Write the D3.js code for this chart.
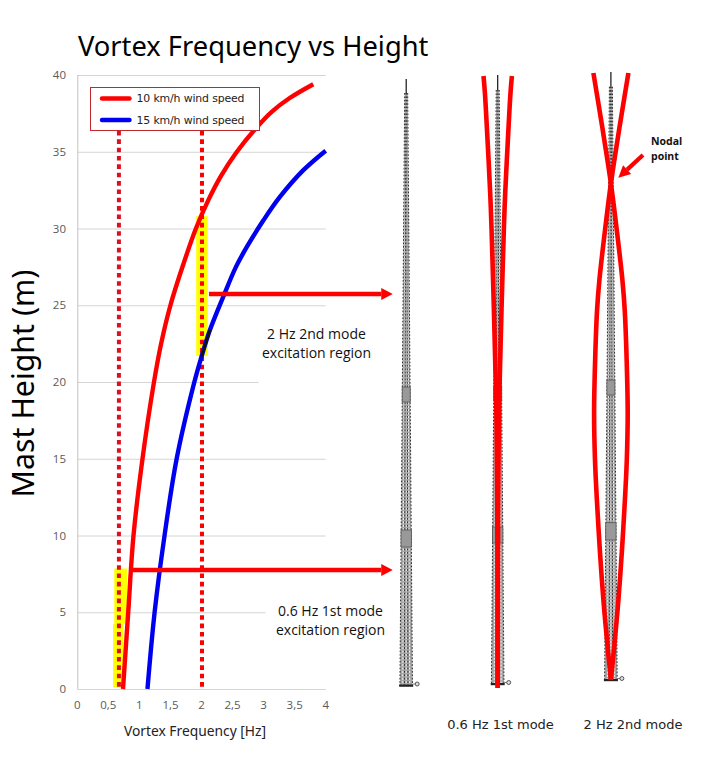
<!DOCTYPE html>
<html><head><meta charset="utf-8">
<script src="https://cdn.jsdelivr.net/npm/d3@7"></script>
<style>html,body{margin:0;padding:0;background:#fff}svg{display:block}text{font-family:"Open Sans",sans-serif}</style>
</head><body><svg id="c" width="703" height="765"></svg>
<script>
// ---- chart data (height in m, frequency in Hz) ----
const xTicks = [0,0.5,1,1.5,2,2.5,3,3.5,4];
const yTicks = [0,5,10,15,20,25,30,35,40];
const series10Height = [0,5,10,15,20,22.5,25,27.7,30,31.85,33.4,35,36.5,37.6,38.5,39.4];
const series10Freq   = [0.736,0.82,0.905,1.05,1.235,1.35,1.5,1.71,1.91,2.11,2.31,2.57,2.87,3.13,3.42,3.8];
const series15Height = [0,5,10,15,20,21.65,23.4,25.55,27.5,28.8,30.55,32.07,33.8,35.07];
const series15Freq   = [1.13,1.245,1.405,1.6,1.885,2.0,2.137,2.35,2.555,2.73,3.0,3.265,3.64,4.0];
const seriesNames = ["10 km/h wind speed","15 km/h wind speed"];
const referenceFreqs = [0.67,2.008];
const gridEnds = [4,3.03,4,4,2.92,4,4,4,4]; // where each faded grid line stops
// excitation regions: [f0,f1,h0,h1]
const regions = [[0.575,0.74,0.1,4.25],[0.595,0.8,4.25,7.85],[1.915,2.1,21.7,30.8]];
// arrows: [fStart,fEnd,h]
const arrows = [[2.12,5.08,25.73],[0.865,5.08,7.75]];
// mode shapes: height (m) and lateral amplitude (px-units)
const mode1Height = [0,12.3,18.8,24.7,30.1,32.35,35.6,38.9,40];
const mode1Amp    = [0,0.5,1.5,3.8,6.2,7.5,10,12.8,14.2];
const mode2Height = [0,1.98,5.27,8.5,11.86,14.5,17.6,21,24.4,26.36,29.85,32.73,36.46,40];
const mode2Amp    = [0,-3,-7.5,-11,-14,-15.9,-16.8,-15.8,-13.8,-11.5,-5.5,0,8.7,17.5];

const svg = d3.select("#c");
const x = d3.scaleLinear().domain([0,4]).range([77.3,325.7]);
const y = d3.scaleLinear().domain([0,40]).range([689,75]);
const RED="#ff0000", BLUE="#0000f0";

// grid
svg.append("g").selectAll("line").data(yTicks).join("line")
  .attr("x1",x(0)).attr("x2",(d,i)=>x(gridEnds[i]))
  .attr("y1",d=>y(d)+.5).attr("y2",d=>y(d)+.5)
  .attr("stroke","#d4d4d4").attr("stroke-width",1);
svg.append("line").attr("x1",x(0)+.5).attr("x2",x(0)+.5).attr("y1",y(40)).attr("y2",y(0))
  .attr("stroke","#c4c4c4");

// axis labels
svg.append("g").selectAll("text").data(yTicks).join("text")
  .attr("x",66).attr("y",d=>y(d)+4).attr("text-anchor","end")
  .attr("font-size",11.5).attr("fill","#595959").text(d=>d);
svg.append("g").selectAll("text").data(xTicks).join("text")
  .attr("x",d=>x(d)).attr("y",709).attr("text-anchor","middle")
  .attr("font-size",11.5).attr("fill","#595959").text(d=>String(d).replace(".",","));

// excitation regions
svg.append("g").selectAll("rect").data(regions).join("rect")
  .attr("x",d=>x(d[0])).attr("width",d=>x(d[1])-x(d[0]))
  .attr("y",d=>y(d[3])).attr("height",d=>y(d[2])-y(d[3]))
  .attr("fill","#ffff00");

// reference lines
svg.append("g").selectAll("line").data(referenceFreqs).join("line")
  .attr("x1",d=>x(d)).attr("x2",d=>x(d)).attr("y1",y(36.9)).attr("y2",y(-0.1))
  .attr("stroke",(d,i)=>i?"#ff0000":"#dc1020").attr("stroke-width",4)
  .attr("stroke-dasharray","4.6 3.75");

// curves
const line = d3.line().x(d=>x(d[1])).y(d=>y(d[0])).curve(d3.curveCatmullRom.alpha(.5));
const s10 = d3.zip(series10Height,series10Freq), s15 = d3.zip(series15Height,series15Freq);
svg.append("path").attr("d",line(s15)).attr("fill","none").attr("stroke",BLUE).attr("stroke-width",4.4);
svg.append("path").attr("d",line(s10)).attr("fill","none").attr("stroke",RED).attr("stroke-width",4.4);
svg.append("path").attr("d",line(s15.filter(d=>d[0]>=21.65&&d[0]<=23.4))).attr("fill","none").attr("stroke","#101010").attr("stroke-width",2.6);

// legend
svg.append("rect").attr("x",90.5).attr("y",87.5).attr("width",169).attr("height",43)
  .attr("fill","#fff").attr("stroke","#c0282d").attr("stroke-width",1);
seriesNames.forEach((n,i)=>{
  const ly = 98.5+i*21.5;
  svg.append("line").attr("x1",102).attr("x2",129.5).attr("y1",ly).attr("y2",ly)
    .attr("stroke",i?BLUE:RED).attr("stroke-width",4.4).attr("stroke-linecap","round");
  svg.append("text").attr("x",136.5).attr("y",ly+3.8).attr("font-size",10.9)
    .attr("fill","#222").style("font-family","'DejaVu Sans'").attr("textLength",108).text(n);
});

// arrows
function arrow(x1,y1,x2,y2,w,hl,hw){
  const a=Math.atan2(y2-y1,x2-x1),c=Math.cos(a),s=Math.sin(a);
  const bx=x2-hl*c,by=y2-hl*s;
  svg.append("line").attr("x1",x1).attr("y1",y1).attr("x2",bx).attr("y2",by)
    .attr("stroke",RED).attr("stroke-width",w);
  svg.append("path").attr("fill",RED)
    .attr("d",`M${x2},${y2}L${bx-s*hw},${by+c*hw}L${bx+s*hw},${by-c*hw}Z`);
}
arrows.forEach(a=>arrow(x(a[0]),y(a[2]),x(a[1]),y(a[2]),4.4,11.5,6));

// towers
const towers = [
  {cx:406.2,top:79,lat:93,bottom:686.5,secs:[[387,402],[530,547]],mode:null},
  {cx:497.7,top:75,lat:90,bottom:685,secs:[[386,401],[527,543]],mode:d3.zip(mode1Height,mode1Amp),mb:688,mt:76},
  {cx:610.9,top:72,lat:86.7,bottom:681,secs:[[380,395],[522.7,540]],mode:d3.zip(mode2Height,mode2Amp),mb:680,mt:73}
];
const wTop=1.5, wBot=6.3;
towers.forEach(t=>{
  const g=svg.append("g");
  const hw=yy=>wTop+(wBot-wTop)*(yy-t.lat)/(t.bottom-t.lat);
  g.append("line").attr("x1",t.cx).attr("x2",t.cx).attr("y1",t.top).attr("y2",t.lat+2).attr("stroke","#111").attr("stroke-width",1.2);
  g.append("path").attr("fill","#a4a4a4").attr("d",`M${t.cx-wTop},${t.lat}L${t.cx+wTop},${t.lat}L${t.cx+wBot},${t.bottom}L${t.cx-wBot},${t.bottom}Z`);
  [-0.55,0,0.55].forEach(f=>g.append("line")
    .attr("x1",t.cx+f*wTop).attr("x2",t.cx+f*wBot).attr("y1",t.lat).attr("y2",t.bottom)
    .attr("stroke","#fff").attr("stroke-width",1).attr("stroke-dasharray","2 1.4").attr("opacity",.9));
  [-1,-0.28,0.28,1].forEach(f=>g.append("line")
    .attr("x1",t.cx+f*wTop).attr("x2",t.cx+f*wBot).attr("y1",t.lat).attr("y2",t.bottom)
    .attr("stroke","#111").attr("stroke-width",1).attr("stroke-dasharray","1.7 1.7").attr("opacity",.85));
  t.secs.forEach(s=>{
    const w=hw(s[1]);
    g.append("rect").attr("x",t.cx-w).attr("y",s[0]).attr("width",2*w).attr("height",s[1]-s[0])
      .attr("fill","#999").attr("stroke","#555").attr("stroke-width",.8);
  });
  g.append("rect").attr("x",t.cx-7).attr("y",t.bottom-2).attr("width",14).attr("height",2.2).attr("fill","#222");
  g.append("line").attr("x1",t.cx+7).attr("x2",t.cx+9).attr("y1",t.bottom-2.5).attr("y2",t.bottom-2.5).attr("stroke","#777");
  g.append("circle").attr("cx",t.cx+11).attr("cy",t.bottom-2.5).attr("r",2).attr("fill","#ddd").attr("stroke","#333").attr("stroke-width",.8);
  if(t.mode){
    const my=d3.scaleLinear().domain([0,40]).range([t.mb,t.mt]);
    [1,-1].forEach(sign=>{
      const l=d3.line().x(d=>t.cx+sign*d[1]).y(d=>my(d[0])).curve(d3.curveCatmullRom.alpha(.5));
      g.append("path").attr("d",l(t.mode)).attr("fill","none").attr("stroke",RED).attr("stroke-width",4.6);
    });
  }
});
// nodal arrow
arrow(643,155,618.3,177.7,4.2,12,6);

// texts
const tx=(s,xx,yy,size,anchor,opts={})=>{
  const e=svg.append("text").attr("x",xx).attr("y",yy).attr("font-size",size).attr("text-anchor",anchor).attr("fill",opts.fill||"#111").text(s);
  if(opts.weight) e.attr("font-weight",opts.weight);
  if(opts.family) e.style("font-family",opts.family);
  return e;
};
tx("Vortex Frequency vs Height",78,56,27.3,"start",{fill:"#000",family:"'Noto Sans'"});
tx("Vortex Frequency [Hz]",195,736,13.8,"middle",{fill:"#222",family:"'Noto Sans'"});
tx("Mast Height (m)",0,0,30.3,"middle",{fill:"#000",family:"'Noto Sans'"}).attr("transform","translate(34,383.5) rotate(-90)");
tx("2 Hz 2nd mode",316.5,339,14,"middle");
tx("excitation region",316.5,358,14,"middle");
tx("0.6 Hz 1st mode",330.5,616,14,"middle");
tx("excitation region",330.5,635,14,"middle");
tx("0.6 Hz 1st mode",500.5,729,13,"middle",{family:"'DejaVu Sans'",fill:"#222"});
tx("2 Hz 2nd mode",633,729,13,"middle",{family:"'DejaVu Sans'",fill:"#222"});
tx("Nodal",651,145,10.5,"start",{weight:700});
tx("point",651,160,10.5,"start",{weight:700});
</script></body></html>
